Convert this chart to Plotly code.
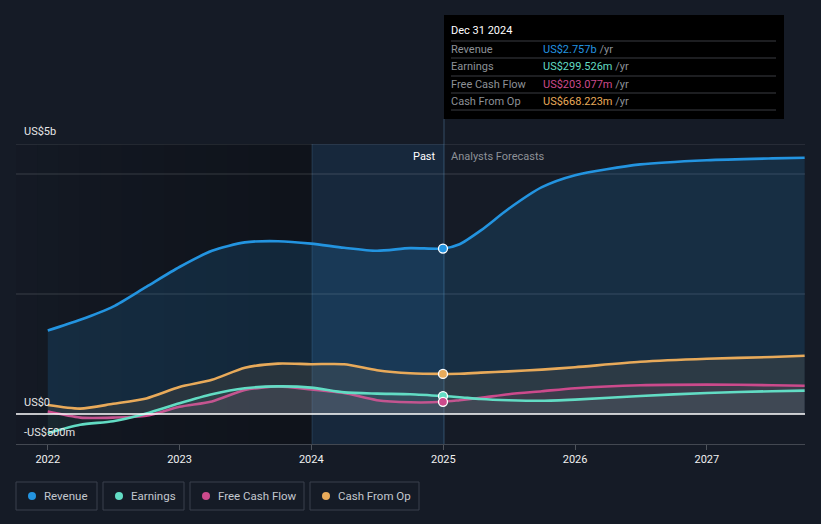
import plotly.graph_objects as go

# ---------------- data ----------------
dates = ["2022-01-01", "2022-04-01", "2022-07-01", "2022-10-01", "2023-01-01",
         "2023-04-01", "2023-07-01", "2023-10-01", "2024-01-01", "2024-04-01",
         "2024-07-01", "2024-10-01", "2024-12-31", "2025-02-15", "2025-04-15",
         "2025-07-01", "2025-10-01", "2026-01-01", "2026-07-01", "2027-01-01",
         "2027-07-01", "2027-09-29"]
revenue = [1.39, 1.57, 1.79, 2.12, 2.45, 2.72, 2.86, 2.88, 2.84, 2.77, 2.72, 2.765, 2.757,
           2.83, 3.06, 3.42, 3.78, 3.98, 4.16, 4.23, 4.26, 4.27]
earnings = [-0.32, -0.18, -0.12, 0.01, 0.18, 0.33, 0.43, 0.46, 0.44, 0.36, 0.34, 0.33, 0.2995,
            0.28, 0.25, 0.23, 0.22, 0.24, 0.30, 0.35, 0.38, 0.39]
fcf = [0.04, -0.06, -0.06, -0.03, 0.12, 0.21, 0.40, 0.46, 0.41, 0.35, 0.23, 0.195, 0.203,
       0.23, 0.27, 0.33, 0.38, 0.43, 0.48, 0.49, 0.48, 0.47]
cfo = [0.15, 0.09, 0.17, 0.26, 0.45, 0.57, 0.77, 0.84, 0.83, 0.83, 0.73, 0.68, 0.668,
       0.67, 0.69, 0.71, 0.74, 0.78, 0.87, 0.92, 0.95, 0.97]

series_names = ["Revenue", "Earnings", "Free Cash Flow", "Cash From Op"]
series_values = [revenue, earnings, fcf, cfo]
series_colors = ["#2394e0", "#62dcc4", "#cc4a8c", "#e8aa5a"]
series_fills = ["rgba(35,148,224,0.16)", "rgba(98,220,196,0.08)",
                "rgba(204,74,140,0.10)", "rgba(232,170,90,0.10)"]
tooltip_values = ["US$2.757b", "US$299.526m", "US$203.077m", "US$668.223m"]
tooltip_date = "Dec 31 2024"
highlight_index = 12

x_ticks = ["2022-01-01", "2023-01-01", "2024-01-01", "2025-01-01", "2026-01-01", "2027-01-01"]
x_tick_labels = ["2022", "2023", "2024", "2025", "2026", "2027"]
y_grid = [4.5, 4.0, 2.0]
y_labels = [(4.5, "US$5b"), (0, "US$0"), (-0.5, "-US$500m")]

BG = "#151b26"
W, H = 821, 524
L, R, T, B = 16, 805, 144, 444


def xp(p):
    return (p - L) / (R - L)


def yp(p):
    return (B - p) / (B - T)


fig = go.Figure()

# draw order: revenue, cash from op, fcf, earnings
for i in [0, 3, 2, 1]:
    fig.add_trace(go.Scatter(
        x=dates, y=series_values[i], mode="lines", name=series_names[i],
        line=dict(color=series_colors[i], width=2.6, shape="spline", smoothing=0.7),
        fill="tozeroy", fillcolor=series_fills[i], hoverinfo="skip", showlegend=False))

for i in [0, 3, 1, 2]:
    fig.add_trace(go.Scatter(
        x=[dates[highlight_index]], y=[series_values[i][highlight_index]], mode="markers",
        marker=dict(color=series_colors[i], size=9, line=dict(color="white", width=1.3)),
        hoverinfo="skip", showlegend=False))

shapes = []
# darkening gradient on past region
n = 14
for k in range(n):
    x0 = 16 + (312 - 16) * k / n
    x1 = 16 + (312 - 16) * (k + 1) / n
    shapes.append(dict(type="rect", xref="paper", yref="paper", x0=xp(x0), x1=xp(x1),
                       y0=0, y1=1, fillcolor="rgba(0,0,0,%.3f)" % (0.28 * ((k + 1) / n) ** 0.7),
                       line=dict(width=0), layer="below"))
# highlighted last-year band
shapes.append(dict(type="rect", xref="paper", yref="paper", x0=xp(312), x1=xp(444),
                   y0=0, y1=1, fillcolor="rgba(35,130,210,0.13)", line=dict(width=0), layer="below"))
shapes.append(dict(type="line", xref="paper", yref="paper", x0=xp(312), x1=xp(312),
                   y0=0, y1=1, line=dict(color="rgba(90,140,180,0.25)", width=1), layer="below"))
# gridlines
for g in y_grid:
    shapes.append(dict(type="line", xref="paper", yref="y", x0=0, x1=1, y0=g, y1=g,
                       line=dict(color="rgba(255,255,255,0.16)", width=1), layer="below"))
shapes.append(dict(type="line", xref="paper", yref="y", x0=0, x1=1, y0=0, y1=0,
                   line=dict(color="#ffffff", width=1.3), layer="above"))
# hover vertical line
shapes.append(dict(type="line", xref="paper", yref="paper", x0=xp(444), x1=xp(444),
                   y0=0, y1=yp(119), line=dict(color="rgba(90,140,180,0.45)", width=1), layer="below"))
# tooltip box
shapes.append(dict(type="rect", xref="paper", yref="paper", x0=xp(444), x1=xp(784),
                   y0=yp(119), y1=yp(15), fillcolor="#000000", line=dict(width=0), layer="above"))
for sy in [41, 58, 76, 93, 110]:
    shapes.append(dict(type="line", xref="paper", yref="paper", x0=xp(451), x1=xp(776),
                       y0=yp(sy), y1=yp(sy), line=dict(color="#3a3d42", width=1), layer="above"))

annotations = []
annotations.append(dict(xref="paper", yref="paper", x=xp(449), y=yp(31), text=tooltip_date,
                        showarrow=False, xanchor="left", yanchor="middle",
                        font=dict(color="#ffffff", size=11, family="Roboto")))
row_y = [49, 66, 84, 101]
for i in range(4):
    annotations.append(dict(xref="paper", yref="paper", x=xp(449), y=yp(row_y[i]),
                            text=series_names[i], showarrow=False, xanchor="left", yanchor="middle",
                            font=dict(color="#8d9197", size=11, family="Roboto")))
    annotations.append(dict(xref="paper", yref="paper", x=xp(541), y=yp(row_y[i]),
                            text="<span style='color:%s'>%s</span> /yr" % (series_colors[i], tooltip_values[i]),
                            showarrow=False, xanchor="left", yanchor="middle",
                            font=dict(color="#8d9197", size=11, family="Roboto")))
annotations.append(dict(xref="paper", yref="paper", x=xp(438), y=yp(156), text="Past",
                        showarrow=False, xanchor="right", yanchor="middle",
                        font=dict(color="#ffffff", size=11, family="Roboto")))
annotations.append(dict(xref="paper", yref="paper", x=xp(449), y=yp(156), text="Analysts Forecasts",
                        showarrow=False, xanchor="left", yanchor="middle",
                        font=dict(color="#8d9197", size=11, family="Roboto")))
label_y = {4.5: 131, 0: 402, -0.5: 432}
for v, t in y_labels:
    annotations.append(dict(xref="paper", yref="paper", x=xp(22), y=yp(label_y[v]), text=t,
                            showarrow=False, xanchor="left", yanchor="middle",
                            font=dict(color="#e6e6e6", size=11, family="Roboto")))

# custom legend
legend_boxes = [(16, 97), (103, 184), (190, 304), (310, 419)]
for i, (a, b) in enumerate(legend_boxes):
    shapes.append(dict(type="rect", xref="paper", yref="paper", x0=xp(a), x1=xp(b),
                       y0=yp(510), y1=yp(482), fillcolor=BG,
                       line=dict(color="#3a404c", width=1), layer="above"))
    shapes.append(dict(type="circle", xref="paper", yref="paper", x0=xp(a + 12), x1=xp(a + 20),
                       y0=yp(500), y1=yp(492), fillcolor=series_colors[i],
                       line=dict(width=0), layer="above"))
    annotations.append(dict(xref="paper", yref="paper", x=xp(a + 26), y=yp(496),
                            text=series_names[i], showarrow=False, xanchor="left", yanchor="middle",
                            font=dict(color="#c3c7ce", size=11.5, family="Roboto")))

fig.update_layout(
    width=W, height=H, paper_bgcolor=BG, plot_bgcolor="rgba(0,0,0,0)",
    margin=dict(l=L, r=W - R, t=T, b=H - B, pad=0),
    showlegend=False, shapes=shapes, annotations=annotations,
    font=dict(family="Roboto", color="#ffffff"),
    xaxis=dict(type="date", range=["2021-10-05", "2027-09-30"], tickvals=x_ticks,
               ticktext=x_tick_labels, showgrid=False, zeroline=False,
               showline=True, linecolor="rgba(255,255,255,0.2)", linewidth=1,
               ticks="outside", ticklen=5, tickcolor="rgba(255,255,255,0.25)",
               tickfont=dict(color="#f0f0f0", size=11, family="Roboto"), fixedrange=True),
    yaxis=dict(range=[-0.5, 4.5], showgrid=False, zeroline=False, showticklabels=False,
               showline=False, fixedrange=True),
)

fig.write_html("out.html", config={"displayModeBar": False},
               post_script="document.body.style.margin='0';document.body.style.background='%s';" % BG)
